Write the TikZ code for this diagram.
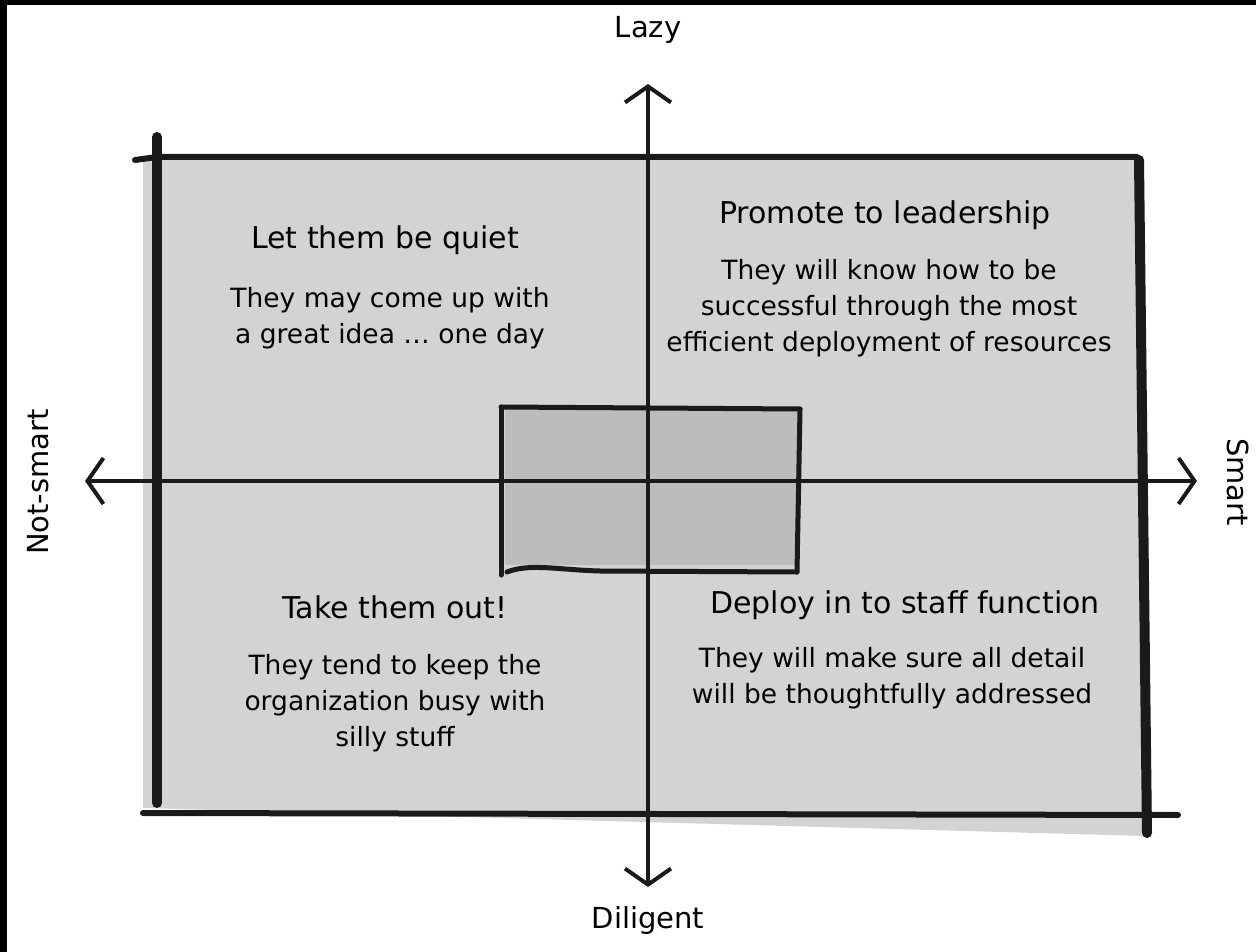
\documentclass[tikz,border=0pt]{standalone}
\usepackage{fontspec}
\setmainfont{DejaVu Sans}
\usetikzlibrary{arrows.meta}
\definecolor{paper}{HTML}{D3D3D3}
\definecolor{inner}{HTML}{BCBCBC}
\definecolor{ink}{HTML}{1A1A1A}

\begin{document}
\begin{tikzpicture}
		[x=1pt,y=-1pt,
		frame/.style={ink,line width=10pt,line cap=round},
		rim/.style={ink,line width=6pt,line cap=round},
		boxline/.style={ink,line width=5pt,line cap=round},
		axis/.style={ink,line width=4pt,>={Straight Barb[length=16pt,width=46pt,line width=4pt]},<->},
		axislabel/.style={font=\fontsize{29}{32}\selectfont},
		title/.style={font=\fontsize{30}{34}\selectfont,align=center},
		body/.style={font=\fontsize{26.5}{36}\selectfont,align=center}]
		\useasboundingbox (0,0) rectangle (1256,952);
		\fill[white] (0,0) rectangle (1256,952);
		\fill[black] (0,0) rectangle (7,952);
		\fill[black] (0,0) rectangle (1256,5);

		% outer sheet
		\coordinate (tl) at (157,157);
		\coordinate (tr) at (1137,157);
		\coordinate (br) at (1147,833);
		\coordinate (bl) at (157,803);
		\fill[paper] (143,159) -- (1137,159) -- (1145,836) -- (143,808) -- cycle;
		\draw[rim] (135,160) -- (tl) -- (tr);
		\draw[rim] (143,813) -- (1178,815);
		\draw[frame] (157,137) -- (bl);
		\draw[frame] (1139,160) -- (br);

		% inner box
		\coordinate (itl) at (501,407);
		\coordinate (itr) at (800,409);
		\coordinate (ibr) at (797,572);
		\coordinate (ibl) at (501,575);
		\fill[inner] (505,409) rectangle (800,565);
		\draw[boxline] (itl) -- (itr);
		\draw[boxline] (itl) -- (ibl);
		\draw[boxline] (itr) -- (ibr);
		\draw[boxline] (507,572) .. controls (530,563) and (560,570) .. (600,571) -- (ibr);

		% axes
		\coordinate (north) at (648,84);
		\coordinate (south) at (648,887);
		\coordinate (west) at (85,481);
		\coordinate (east) at (1197,481);
		\draw[axis] (west) -- (east);
		\draw[axis] (south) -- (north);

		\node[axislabel] (lazy) at (648,30) {Lazy};
		\node[axislabel] (diligent) at (648,920) {Diligent};
		\node[axislabel,rotate=90] (notsmart) at (38,482) {Not-smart};
		\node[axislabel,rotate=-90] (smart) at (1238,482) {Smart};

		% quadrants
		\node[title] (quiet) at (385,240) {Let them be quiet};
		\node[body] (quietnote) at (390,318) {They may come up with\\a great idea \dots\ one day};
		\node[title] (promote) at (885,215) {Promote to leadership};
		\node[body] (promotenote) at (889,308) {They will know how to be\\successful through the most\\efficient deployment of resources};
		\node[title] (out) at (395,607) {Take them out!};
		\node[body] (outnote) at (395,703) {They tend to keep the\\organization busy with\\silly stuff};
		\node[title] (staff) at (905,605) {Deploy in to staff function};
		\node[body] (staffnote) at (892,678) {They will make sure all detail\\will be thoughtfully addressed};
	\end{tikzpicture}
\end{document}
